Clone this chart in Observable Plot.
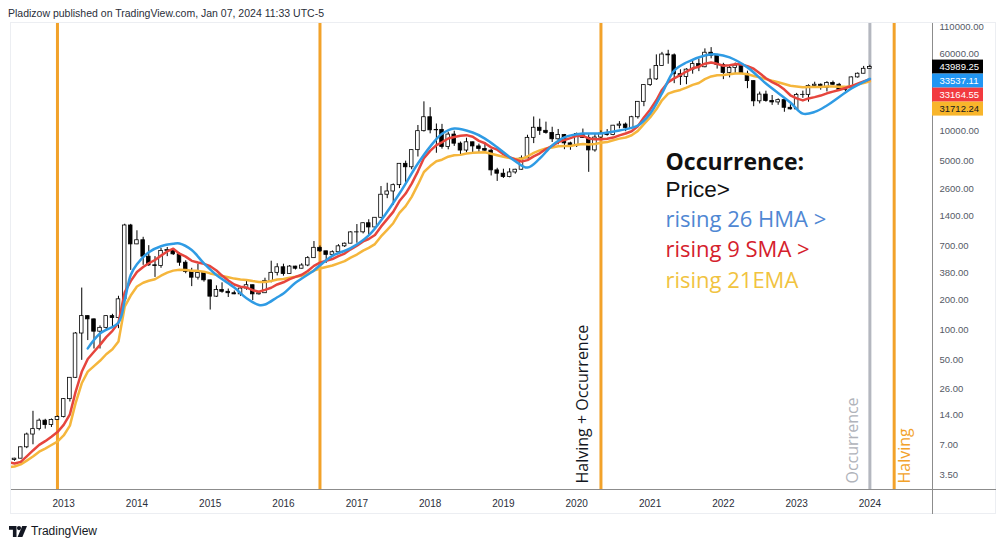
<!DOCTYPE html>
<html>
<head>
<meta charset="utf-8">
<script src="https://cdn.jsdelivr.net/npm/d3@7"></script>
<script src="https://cdn.jsdelivr.net/npm/@observablehq/plot@0.6"></script>
<style>
html,body{margin:0;padding:0;background:#fff;}
#wrap{position:relative;width:1000px;height:545px;overflow:hidden;background:#fff;font-family:"Liberation Sans",Arial,sans-serif;}
#chart{position:absolute;left:0;top:0;}
#panel{position:absolute;left:10px;top:22px;width:986px;height:492px;box-sizing:border-box;border:1px solid #eceef2;pointer-events:none;}
#hdr{position:absolute;left:8px;top:7px;font-size:10.5px;color:#2a2e39;white-space:nowrap;}
#axV{position:absolute;left:932px;top:489px;width:1px;height:25px;background:#8c8c8c;}
#axH{position:absolute;left:932px;top:489px;width:64px;height:1px;background:#8c8c8c;}
#logo{position:absolute;left:9px;top:524px;display:flex;align-items:center;gap:4px;font-size:12px;color:#131722;}
</style>
</head>
<body>
<div id="wrap">
  <div id="chart"></div>
  <div id="panel"></div>
  <div id="axV"></div><div id="axH"></div>
  <div id="hdr">Pladizow published on TradingView.com, Jan 07, 2024 11:33 UTC-5</div>
  <div id="logo"><svg width="18" height="11" viewBox="0 0 18 11"><path d="M0 0h7.5v11h-3.6v-7.2H0z" fill="#131722"/><circle cx="10" cy="2.1" r="2.1" fill="#131722"/><path d="M13.2 0h4.8l-4.6 11H8.6z" fill="#131722"/></svg><span>TradingView</span></div>
</div>
<script>
// ---------- DATA (monthly BTCUSD candles, May 2012 – Jan 2024) ----------
const firstCandle = "2012-05";
const lastCandle = "2024-01";

const opens = [
  5.0, 5.15, 6.7, 9.0, 10.2, 12.4, 11.2, 12.6,
  13.5, 20.4, 33.4, 93, 139, 129, 97, 106, 139, 133, 205, 1130,
  730, 803, 549, 450, 442, 628, 640, 580, 478, 386, 338, 378,
  318, 218, 254, 244, 236, 230, 263, 284, 230, 236, 314, 378,
  430, 368, 437, 416, 448, 531, 674, 622, 573, 609, 698, 742,
  963, 965, 1190, 1080, 1350, 2300, 2480, 2870, 4700, 4340, 6450, 10000,
  13800, 10200, 10300, 6930, 9240, 7490, 6390, 7730, 7030, 6630, 6370, 4040,
  3740, 3460, 3850, 4100, 5330, 8570, 10820, 10080, 9600, 8290, 9150, 7540,
  7190, 9350, 8540, 6410, 8630, 9450, 9140, 11350, 11650, 10780, 13800, 19700,
  28990, 33110, 45140, 58800, 57720, 37300, 35040, 41460, 47130, 43820, 61300, 57000,
  46200, 38480, 43190, 45510, 37630, 31800, 19930, 23300, 20050, 19430, 20490, 17170,
  16550, 23130, 23150, 28480, 29250, 27220, 30480, 29230, 25940, 26970, 34650, 37720,
  42280
];
const highs = [
  5.2, 6.75, 9.3, 15.4, 12.9, 12.8, 12.9, 13.8,
  20.7, 33.4, 95, 266, 140, 130, 111, 140, 145, 220, 1163, 1160,
  1000, 860, 709, 550, 666, 680, 650, 600, 500, 420, 460, 385,
  320, 280, 300, 260, 248, 268, 318, 285, 245, 334, 495, 467,
  462, 448, 440, 467, 550, 780, 704, 623, 628, 725, 754, 980,
  1155, 1200, 1290, 1350, 2780, 3000, 2950, 4700, 5000, 6470, 11400, 19700,
  17200, 11800, 11700, 9750, 9990, 7780, 8500, 7760, 7410, 7680, 6560, 4240,
  4150, 4200, 4150, 5640, 9100, 13880, 13200, 12320, 10950, 10400, 9270, 7750,
  9570, 10500, 9190, 9460, 10070, 10380, 11430, 12470, 12070, 14100, 19860, 29300,
  41950, 58350, 61790, 64850, 59600, 41330, 42400, 50500, 52920, 67000, 69000, 59040,
  47990, 45800, 48190, 47440, 39990, 31980, 24670, 25200, 22800, 21100, 21480, 18400,
  23950, 25250, 29200, 31000, 29820, 31390, 31800, 30200, 27480, 35000, 38400, 44700,
  45900
];
const lows = [
  4.85, 5.15, 6.5, 7.1, 9.8, 10.2, 10.6, 12.5,
  13.2, 19.1, 33, 50, 79, 65, 65, 100, 109, 104, 197, 400,
  725, 450, 439, 340, 420, 550, 565, 440, 370, 275, 320, 305,
  160, 214, 236, 214, 228, 220, 253, 199, 226, 236, 300, 352,
  350, 365, 404, 414, 436, 528, 605, 471, 567, 604, 680, 740,
  750, 930, 890, 1060, 1340, 2100, 1800, 2650, 2950, 4100, 5500, 9800,
  9400, 6000, 6600, 6500, 7030, 5750, 6070, 5880, 6120, 6200, 3550, 3130,
  3350, 3400, 3700, 4070, 5330, 7500, 9070, 9330, 7700, 7300, 6520, 6430,
  6850, 8450, 3860, 6150, 8110, 8900, 8990, 10550, 9880, 10370, 13220, 17600,
  28130, 32300, 45000, 47000, 30000, 28800, 29280, 37330, 39600, 43300, 53250, 42000,
  32930, 34320, 37200, 37600, 26700, 17600, 18780, 19520, 18150, 18190, 15480, 16300,
  16500, 21350, 19550, 26900, 25800, 24800, 28860, 25300, 24900, 26540, 34100, 37630,
  42200
];
const closes = [
  5.15, 6.7, 9.0, 10.2, 12.4, 11.2, 12.6, 13.5,
  20.4, 33.4, 93, 139, 129, 97, 106, 139, 133, 205, 1130, 730,
  803, 549, 450, 442, 628, 640, 580, 478, 386, 338, 378, 318,
  218, 254, 244, 236, 230, 263, 284, 230, 236, 314, 378, 430,
  368, 437, 416, 448, 531, 674, 622, 573, 609, 698, 742, 963,
  965, 1190, 1080, 1350, 2300, 2480, 2870, 4700, 4340, 6450, 10000, 13800,
  10200, 10300, 6930, 9240, 7490, 6390, 7730, 7030, 6630, 6370, 4040, 3740,
  3460, 3850, 4100, 5330, 8570, 10820, 10080, 9600, 8290, 9150, 7540, 7190,
  9350, 8540, 6410, 8630, 9450, 9140, 11350, 11650, 10780, 13800, 19700, 28990,
  33110, 45140, 58800, 57720, 37300, 35040, 41460, 47130, 43820, 61300, 57000, 46200,
  38480, 43190, 45510, 37630, 31800, 19930, 23300, 20050, 19430, 20490, 17170, 16550,
  23130, 23150, 28480, 29250, 27220, 30480, 29230, 25940, 26970, 34650, 37720, 42280,
  43989.25
];

// Moving averages (monthly, Apr 2012 – Jan 2024)
const maFirst = "2012-04";
const sma9 = [
  4.75, 4.6, 4.78, 5.43, 6.23, 7.08, 7.72, 8.57, 9.53,
  11.24, 14.38, 23.97, 38.4, 51.6, 61, 71.5, 85.6, 98.9, 119, 241, 312,
  386, 432, 472, 509, 563, 620, 661, 589, 550, 499, 480, 465,
  440, 399, 355, 317, 289, 275, 269, 253, 244, 255, 268, 289,
  304, 327, 344, 362, 395, 444, 478, 500, 520, 556, 590, 651,
  709, 782, 827, 908, 1100, 1308, 1549, 1989, 2364, 2973, 3952, 5366,
  6349, 7238, 7732, 8440, 8750, 8979, 9120, 8790, 7993, 7568, 6872, 6518,
  5876, 5471, 5217, 4950, 5121, 5587, 5999, 6617, 7122, 7754, 8164, 8508,
  8954, 8951, 8461, 8300, 8283, 8378, 8622, 9079, 9478, 9972, 11212, 13721,
  16441, 20407, 25924, 31077, 33927, 36622, 39696, 42743, 44391, 47523, 48841, 47441,
  45303, 45958, 47121, 46696, 44992, 42338, 38116, 34010, 31036, 29037, 26146, 22928,
  21317, 20356, 21306, 21967, 22763, 23991, 24962, 25937, 27094, 28374, 29993, 31527,
  33164.55
];
const ema21 = [
  4.22, 4.30, 4.52, 4.93, 5.41, 6.05, 6.51, 7.07, 7.65,
  8.81, 11.05, 18.5, 29.45, 38.5, 43.8, 49.5, 57.6, 64.5, 77.3, 173, 223.6,
  276, 301, 314.6, 326, 353.7, 379.7, 397.9, 405.2, 403.5, 397.5, 395.7, 388.7,
  373.2, 362.4, 351.6, 341.1, 331, 324.8, 321.1, 312.8, 305.8, 306.6, 313.1, 323.7,
  327.7, 337.6, 344.7, 354.1, 370.2, 397.8, 418.2, 432.3, 448.3, 471, 495.6, 538.1,
  576.9, 632.6, 673.3, 734.8, 877.1, 1022.8, 1190.7, 1509.7, 1767, 2192.7, 2902.4, 3893,
  4466.3, 4996.6, 5172.4, 5542.2, 5719.3, 5780.3, 5957.5, 6055, 6107.3, 6131.2, 5941.1, 5741,
  5533.6, 5380.6, 5264.2, 5270.2, 5570.2, 6047.5, 6414.1, 6703.7, 6847.9, 7057.2, 7101.1, 7109.2,
  7312.9, 7424.4, 7332.2, 7450.2, 7632, 7769.1, 8094.6, 8417.8, 8632.5, 9102.2, 10065.6, 11786,
  13724.5, 16580.4, 20418.4, 23809.1, 25035.5, 25944.9, 27355.3, 29152.9, 30486.3, 33287.4, 35443, 36420.9,
  36608.1, 37206.4, 37961.2, 37931.1, 37373.7, 35787.9, 34652.6, 33325.1, 32061.9, 31009.9, 29751.7, 28551.6,
  28058.7, 27612.5, 27691.4, 27833.1, 27777.4, 28023.1, 28132.8, 27933.5, 27845.9, 28464.5, 29305.9, 30485.3,
  31712.24
];
// 26 HMA at selected months
const hmaMonths = [
  "2013-05","2013-07","2013-10","2013-11","2013-12","2014-01","2014-03","2014-05","2014-07","2014-08",
  "2014-10","2014-12","2015-02","2015-05","2015-07","2015-09","2015-10","2015-12","2016-01","2016-03",
  "2016-06","2016-07","2016-09","2016-12","2017-03","2017-05","2017-08","2017-11","2018-01","2018-03",
  "2018-05","2018-08","2018-10","2018-12","2019-03","2019-05","2019-07","2019-09","2019-11","2020-02",
  "2020-05","2020-08","2020-11","2021-01","2021-03","2021-05","2021-07","2021-10","2021-12","2022-02",
  "2022-05","2022-08","2022-12","2023-02","2023-04","2023-06","2023-10","2024-01"
];
const hmaValues = [
  66, 93, 120, 200, 360, 460, 610, 700, 740, 745,
  640, 470, 360, 269, 210, 180, 182, 215, 234, 300,
  400, 450, 560, 670, 900, 1268, 2366, 4730, 7000, 9400,
  10650, 9700, 8430, 6900, 5000, 4310, 5310, 7180, 8650, 9450,
  9500, 10160, 11400, 15000, 23900, 40600, 48900, 57500, 59000, 55000,
  43700, 30100, 19400, 15000, 15600, 18100, 26800, 33537.11
];

// Event lines
const eventMonths = ["2012-12", "2016-07", "2020-05", "2024-01", "2024-05"];
const eventKinds = ["halving", "halving", "halving", "occurrence", "halving"];

// Price scale labels on the right
const lastValues = [43989.25, 33537.11, 33164.55, 31712.24];

// Tick labels
const yTicks = [3.5, 7, 14, 26, 50, 100, 200, 380, 700, 1400, 2600, 5000, 10000, 60000, 110000];
const tickYears = [2013, 2014, 2015, 2016, 2017, 2018, 2019, 2020, 2021, 2022, 2023, 2024];

// Annotation text
const noteLines = ["Occurrence:", "Price>", "rising 26 HMA >", "rising 9 SMA >", "rising 21EMA"];

// ---------- BUILD ----------
const parse = d3.utcParse("%Y-%m");
const candleMonths = d3.utcMonth.range(parse(firstCandle), d3.utcMonth.offset(parse(lastCandle), 1));
const candles = candleMonths.map((date, i) => ({date, open: opens[i], high: highs[i], low: lows[i], close: closes[i]}));
const maMonths = d3.utcMonth.range(parse(maFirst), d3.utcMonth.offset(parse(lastCandle), 1));
const smaData = maMonths.map((date, i) => ({date, value: sma9[i]}));
const emaData = maMonths.map((date, i) => ({date, value: ema21[i]}));
const hmaData = hmaMonths.map((m, i) => ({date: parse(m), value: hmaValues[i]}));
const events = eventMonths.map((m, i) => ({date: parse(m), kind: eventKinds[i]}));

const W = 1000, H = 545, mL = 10, mR = 68, mT = 22, mB = 56;
const xDomain = [new Date(Date.UTC(2012, 3, 11)), new Date(Date.UTC(2024, 10, 8))];
const yDomain = [2.526, 123300];

const ORANGE = "#f2a22a", GRAY = "#b4b7bf";
const C_HMA = "#2f9be4", C_SMA = "#e6453d", C_EMA = "#f5b63c";
const labelBg = ["#000000", "#2196f3", "#f23a3f", "#f8b52b"];
const labelFg = ["#ffffff", "#ffffff", "#ffffff", "#131722"];
const noteFill = ["#111111", "#111111", "#4f87d3", "#d5212c", "#f1c33f"];
const noteSize = [23, 22.5, 22, 22, 22];
const noteWeight = ["bold", "normal", "normal", "normal", "normal"];
const noteFont = ['"Open Sans", sans-serif', '"Liberation Sans", Arial, sans-serif', '"Open Sans", sans-serif', '"Open Sans", sans-serif', '"Open Sans", sans-serif'];
const noteBase = [169, 196.5, 226, 256, 287];

const yS = Plot.scale({y: {type: "log", domain: yDomain, range: [H - mB, mT]}});
const xS = Plot.scale({x: {type: "utc", domain: xDomain, range: [mL, W - mR]}});

// stack last-value labels so they do not overlap (like TradingView)
let prev = -Infinity;
const priceLabels = lastValues.map((v, i) => ({v, i}))
  .sort((a, b) => b.v - a.v)
  .map(d => { const p = Math.max(yS.apply(d.v), prev + 14); prev = p; return {...d, p}; });
const xBoxEnd = xS.invert(983);

const noteMarks = noteLines.map((t, i) => Plot.text([t], {
  frameAnchor: "top-left", dx: 665 - mL, dy: noteBase[i] - mT, text: d => d,
  textAnchor: "start", lineAnchor: "bottom", fill: noteFill[i],
  fontSize: noteSize[i], fontWeight: noteWeight[i], fontFamily: noteFont[i]
}));

const eventLabel = (month, text, dx, fill) => Plot.text([{date: parse(month), text}], {
  x: "date", frameAnchor: "bottom", text: "text", rotate: -90, textAnchor: "start",
  dx, dy: -6, fill, fontSize: 16, fontFamily: '"Open Sans", sans-serif'
});

const chart = Plot.plot({
  width: W, height: H,
  marginLeft: mL, marginRight: mR, marginTop: mT, marginBottom: mB,
  style: {fontFamily: '"Liberation Sans", Arial, sans-serif', fontSize: "10px", background: "transparent", overflow: "visible"},
  x: {type: "utc", domain: xDomain},
  y: {type: "log", domain: yDomain, axis: null},
  color: {type: "identity"},
  marks: [
    Plot.ruleX(events, {x: "date", stroke: d => d.kind === "halving" ? ORANGE : GRAY, strokeWidth: 3}),
    Plot.ruleY([yDomain[0]], {stroke: "#8c8c8c"}),
    Plot.ruleX([xDomain[1]], {stroke: "#8c8c8c"}),
    Plot.axisX({ticks: tickYears.map(y => new Date(Date.UTC(y, 0, 1))), tickFormat: d3.utcFormat("%Y"),
      tickSize: 0, tickPadding: 10, label: null, color: "#2a2e39", fontSize: 10}),
    // price scale tick labels (right side)
    Plot.text(yTicks, {y: d => d, frameAnchor: "right", text: d => d.toFixed(2), textAnchor: "start",
      dx: 7, fill: "#555a66", fontSize: 9.5}),
    // candles
    Plot.ruleX(candles, {x: "date", y1: "low", y2: "high", stroke: "#000", strokeWidth: 1, clip: true}),
    Plot.rect(candles, {
      x1: d => d3.utcDay.offset(d.date, -9), x2: d => d3.utcDay.offset(d.date, 9),
      y1: d => Math.min(d.open, d.close), y2: d => Math.max(d.open, d.close),
      fill: d => d.close >= d.open ? "#ffffff" : "#000000", stroke: "#000", strokeWidth: 0.8, clip: true
    }),
    // moving averages
    Plot.line(emaData, {x: "date", y: "value", stroke: C_EMA, strokeWidth: 2.5, clip: true}),
    Plot.line(smaData, {x: "date", y: "value", stroke: C_SMA, strokeWidth: 2.5, clip: true}),
    Plot.line(hmaData, {x: "date", y: "value", stroke: C_HMA, strokeWidth: 2.5, curve: "catmull-rom", clip: true}),
    // event labels
    eventLabel("2020-05", "Halving + Occurrence", -13, "#131722"),
    eventLabel("2024-01", "Occurrence", -12, "#b0b3ba"),
    eventLabel("2024-05", "Halving", 16, ORANGE),
    // annotation
    ...noteMarks,
    // last value labels
    Plot.rect(priceLabels, {
      x1: () => xDomain[1], x2: () => xBoxEnd,
      y1: d => yS.invert(d.p + 7), y2: d => yS.invert(d.p - 7),
      fill: d => labelBg[d.i]
    }),
    Plot.text(priceLabels, {
      x: () => xDomain[1], y: d => yS.invert(d.p), text: d => d.v.toFixed(2),
      textAnchor: "start", dx: 7, fill: d => labelFg[d.i], fontSize: 9.5
    })
  ]
});
document.getElementById("chart").appendChild(chart);
</script>
</body>
</html>
